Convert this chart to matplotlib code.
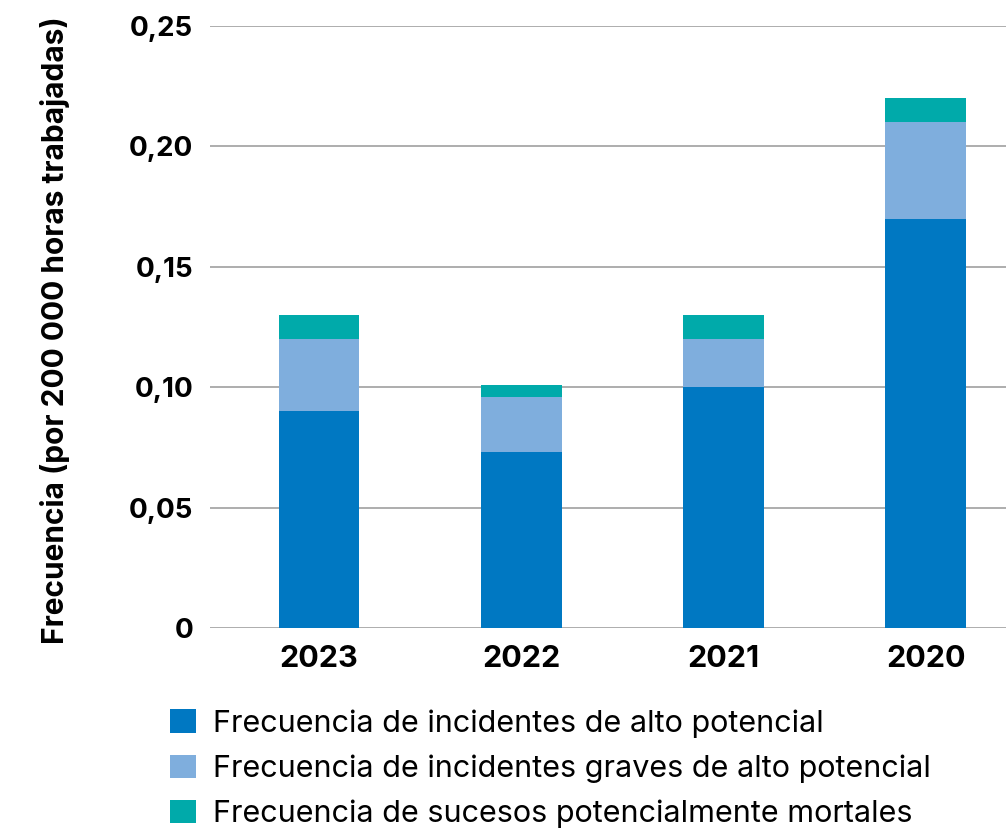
import matplotlib.pyplot as plt
import numpy as np

years = ["2023", "2022", "2021", "2020"]
alto_potencial = [0.09, 0.073, 0.10, 0.17]
graves = [0.03, 0.023, 0.02, 0.04]
mortales = [0.01, 0.005, 0.01, 0.01]

labels = ["Frecuencia de incidentes de alto potencial",
          "Frecuencia de incidentes graves de alto potencial",
          "Frecuencia de sucesos potencialmente mortales"]
colors = ["#0078C2", "#7FAEDD", "#00AAAA"]
yticks = [0, 0.05, 0.10, 0.15, 0.20, 0.25]
ytick_labels = ["0", "0,05", "0,10", "0,15", "0,20", "0,25"]

plt.rcParams['font.family'] = ['Inter', 'DejaVu Sans']

fig = plt.figure(figsize=(10.06, 8.3), dpi=100)
ax = fig.add_axes([210 / 1006, 1 - 628 / 830, 1 - 210 / 1006, (628 - 26) / 830])

x = np.arange(len(years))
w = 0.40
bottom = np.zeros(len(years))
for vals, col, lab in zip([alto_potencial, graves, mortales], colors, labels):
    ax.bar(x, vals, w, bottom=bottom, color=col, label=lab, zorder=3)
    bottom += np.array(vals)

ax.set_ylim(0, 0.25)
ax.set_xlim(-0.539, 3.396)
ax.set_yticks(yticks)
ax.set_yticklabels(ytick_labels, fontsize=20, fontweight='bold')
ax.set_xticks(x)
ax.set_xticklabels(years, fontsize=22, fontweight='bold')
ax.tick_params(axis='x', length=0, pad=12)
ax.tick_params(axis='y', length=0, pad=12)
ax.yaxis.grid(True, color='#a0a0a0', linewidth=1.2, zorder=0)
for s in ax.spines.values():
    s.set_visible(False)

fig.text(55 / 1006, 1 - 330 / 830, "Frecuencia (por 200 000 horas trabajadas)",
         rotation=90, ha='center', va='center', fontsize=21.5, fontweight='bold')

fig.legend(loc='upper left', bbox_to_anchor=(158 / 1006, 1 - 697 / 830),
           frameon=False, fontsize=22, handlelength=0.85, handleheight=0.8,
           handletextpad=0.55, labelspacing=0.55, borderaxespad=0)

fig.savefig("out.png", dpi=100)
